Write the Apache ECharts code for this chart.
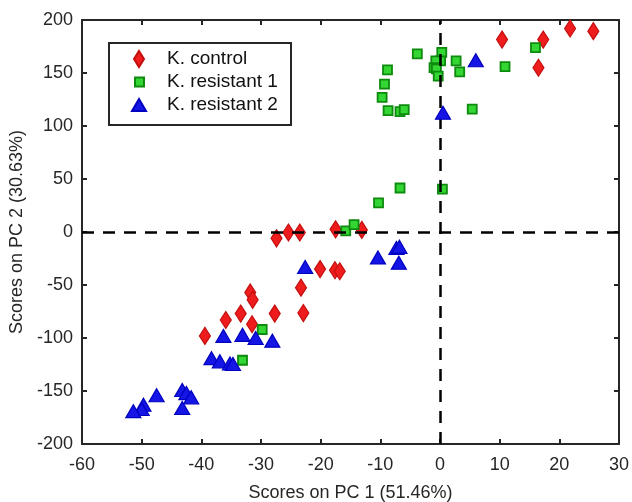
<!DOCTYPE html>
<html>
<head>
<meta charset="utf-8">
<script src="https://cdn.jsdelivr.net/npm/echarts@6/dist/echarts.min.js"></script>
<style>
  html, body { margin: 0; padding: 0; background: #fff; }
  #main { width: 632px; height: 502px; }
</style>
</head>
<body>
<div id="main"></div>
<script>
// PCA scores [PC1, PC2]
var control = [
  [-39.4, -98], [-35.9, -83], [-33.4, -77], [-31.8, -57], [-31.4, -64], [-31.5, -87],
  [-27.4, -6], [-27.7, -77], [-25.4, -0.5], [-23.5, -0.5], [-17.5, 2.5], [-13.1, 2],
  [-20.1, -35], [-17.6, -36], [-16.8, -37], [-23.3, -52.5], [-22.9, -76.5],
  [10.4, 181.5], [17.3, 181.5], [16.5, 155], [21.8, 192], [25.7, 189.5]
];
var resistant1 = [
  [-29.8, -92], [-33.1, -121], [-15.8, 1], [-14.4, 7], [-10.3, 27.5], [-6.7, 41.5],
  [0.4, 40.5], [-8.8, 153], [-9.3, 139.5], [-9.7, 127], [-8.7, 114.5], [-6.7, 113.5],
  [-6.0, 115.5], [-3.8, 168], [0.3, 169.5], [0.1, 161.5], [-0.7, 161.5], [-1.0, 155],
  [-0.6, 154], [-0.3, 147], [2.7, 161.5], [3.3, 151], [5.4, 116], [10.9, 156], [16.0, 174]
];
var resistant2 = [
  [-36.3, -98], [-33.1, -97], [-30.9, -100], [-28.1, -102.5], [-38.3, -119], [-36.9, -122],
  [-35.2, -124], [-34.7, -124.5], [-47.5, -154], [-49.7, -163], [-50.0, -167], [-51.4, -169],
  [-43.2, -149], [-42.5, -152], [-41.7, -156], [-43.2, -166], [-22.6, -33], [-10.4, -24],
  [-7.3, -15], [-6.8, -14], [-6.9, -29], [6.0, 162], [0.5, 112.5]
];
var seriesNames = ['K. control', 'K. resistant 1', 'K. resistant 2'];

var myChart = echarts.init(document.getElementById('main'));
var font = 'Liberation Sans, Arial, sans-serif';
var axisCol = '#262626';

function axisBase(extra) {
  var a = {
    axisLine: { show: true, onZero: false, lineStyle: { color: axisCol, width: 2 } },
    axisTick: { show: true, inside: true, length: 5, lineStyle: { color: axisCol, width: 2 } },
    splitLine: { show: false },
    axisLabel: { color: axisCol, fontSize: 18, fontFamily: font, margin: 9 }
  };
  for (var k in extra) a[k] = extra[k];
  return a;
}

// one legend per row so each icon keeps its own marker size
function legendRow(name, left, top, w, h, gap) {
  return {
    orient: 'vertical',
    left: left, top: top,
    padding: 0,
    itemWidth: w, itemHeight: h,
    symbolKeepAspect: false,
    z: 8,
    textStyle: { color: '#111', fontSize: 19, fontFamily: font, lineHeight: 20, padding: [0, 0, 0, gap] },
    data: [name]
  };
}

var option = {
  animation: false,
  grid: { left: 82, right: 13, top: 20, bottom: 58, outerBoundsMode: 'none', containLabel: false },
  graphic: [{
    type: 'rect', left: 108, top: 42, z: 7,
    shape: { width: 182, height: 82 },
    style: { fill: '#fff', stroke: axisCol, lineWidth: 2 }
  }],
  legend: [
    legendRow(seriesNames[0], 133, 49, 10, 16, 18),
    legendRow(seriesNames[1], 134, 72, 9, 9, 18),
    legendRow(seriesNames[2], 131, 95, 14, 12, 16)
  ],
  xAxis: [
    axisBase({
      type: 'value', min: -60, max: 30, interval: 10, position: 'bottom',
      axisLabel: { color: axisCol, fontSize: 18, fontFamily: font, margin: 12 },
      name: 'Scores on PC 1 (51.46%)', nameLocation: 'middle', nameGap: 40,
      nameTextStyle: { color: axisCol, fontSize: 18, fontFamily: font }
    }),
    axisBase({
      type: 'value', min: -60, max: 30, interval: 10, position: 'top',
      axisLabel: { show: false }
    })
  ],
  yAxis: [
    axisBase({
      type: 'value', min: -200, max: 200, interval: 50, position: 'left',
      name: 'Scores on PC 2 (30.63%)', nameLocation: 'middle', nameGap: 47,
      nameTextStyle: { color: axisCol, fontSize: 18, fontFamily: font }
    }),
    axisBase({
      type: 'value', min: -200, max: 200, interval: 50, position: 'right',
      axisLabel: { show: false }
    })
  ],
  series: [
    {
      name: seriesNames[0],
      type: 'scatter',
      symbol: 'diamond',
      symbolSize: [11, 17],
      itemStyle: { color: '#ee1c1c', borderColor: '#c40f0f', borderWidth: 1.2, opacity: 1 },
      data: control,
      markLine: {
        silent: true,
        symbol: 'none',
        label: { show: false },
        lineStyle: { color: '#000', width: 2.5, type: [12, 9] },
        data: [{ xAxis: 0 }, { yAxis: 0 }]
      },
      z: 3
    },
    {
      name: seriesNames[1],
      type: 'scatter',
      symbol: 'rect',
      symbolSize: 9,
      itemStyle: { color: '#33d633', borderColor: '#0e8a0e', borderWidth: 1.8, opacity: 1 },
      data: resistant1,
      z: 4
    },
    {
      name: seriesNames[2],
      type: 'scatter',
      symbol: 'triangle',
      symbolSize: [15, 13],
      itemStyle: { color: '#1515e6', borderColor: '#0000c0', borderWidth: 1.2, opacity: 1 },
      data: resistant2,
      z: 5
    }
  ]
};
myChart.setOption(option);
</script>
</body>
</html>
